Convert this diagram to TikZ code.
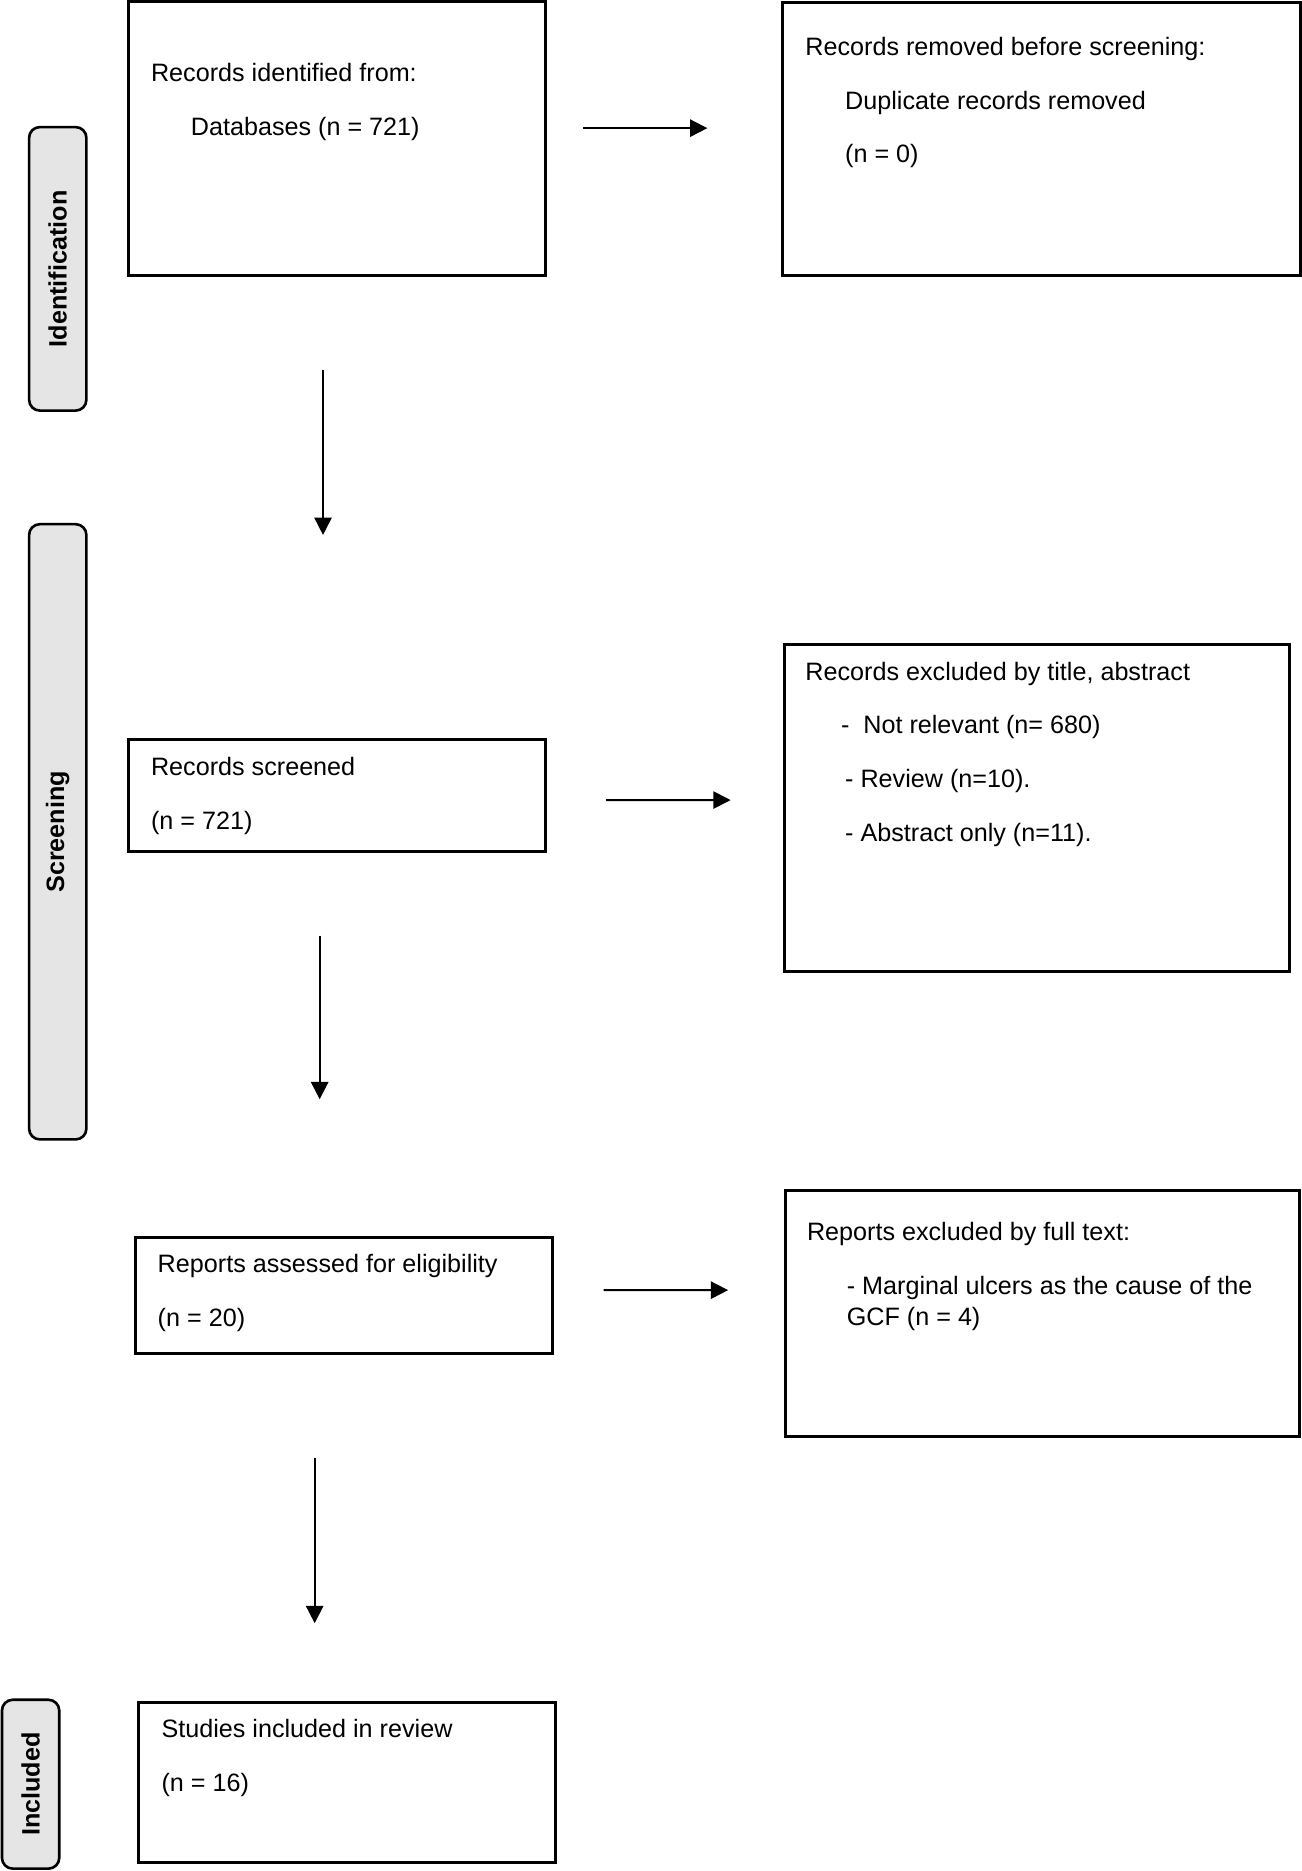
\documentclass[tikz,border=0pt]{standalone}
\usepackage{fontspec}
\setmainfont{Liberation Sans}
\usetikzlibrary{positioning,arrows.meta}
\tikzstyle{block} = [rectangle, draw, line width=1.4pt, inner sep=0pt, outer sep=0pt,
    minimum width=6.986cm]
\tikzstyle{stage} = [rectangle, draw, line width=1.25pt, fill=gray!20, rounded corners=0.18cm,
    rotate=90, minimum height=0.96cm, font=\fontsize{12}{14.4}\selectfont\bfseries]
\tikzstyle{txt} = [inner sep=0pt, outer sep=0pt, align=left, font=\fontsize{12}{14.8}\selectfont]
\tikzstyle{line} = [draw, line width=0.9pt, -{Triangle[length=0.29cm,width=0.29cm]}]

\begin{document}
\begin{tikzpicture}[node distance=1cm, auto]
	\useasboundingbox (0,0) rectangle (21.82,-31.36);

		\node [block, minimum height=4.586cm] (ident) at (5.649,-2.325) {};
		\node [block, minimum height=1.88cm, below=7.778cm of ident] (screened) {};
		\node [block, minimum height=1.95cm, below=6.466cm of screened, xshift=0.112cm] (assessed) {};
		\node [block, minimum width=6.996cm, minimum height=2.688cm, below=5.836cm of assessed, xshift=0.057cm] (included) {};

		\node [block, minimum width=8.67cm, minimum height=4.578cm, right=3.98cm of ident] (removed) {};
		\node [block, minimum width=8.462cm, minimum height=5.47cm, right=4.008cm of screened, yshift=-0.205cm] (excltitle) {};
		\node [block, minimum width=8.616cm, minimum height=4.124cm, right=3.91cm of assessed, yshift=-0.299cm] (exclfull) {};

		\node [stage, minimum width=4.752cm] (idstage) at (0.968,-4.506) {Identification};
		\node [stage, minimum width=10.312cm] (scrstage) at (0.968,-13.942) {Screening};
		\node [stage, minimum width=2.83cm] (incstage) at (0.513,-29.905) {Included};

		\node [txt, below right=1.026cm and 0.376cm of ident.north west] (identtxt)
			{Records identified from:\\[0.38cm]\hspace*{0.668cm}Databases (n = 721)};
		\node [txt, below right=0.59cm and 0.378cm of removed.north west] (removedtxt)
			{Records removed before screening:\\[0.38cm]\hspace*{0.666cm}Duplicate records removed\\[0.38cm]\hspace*{0.666cm}(n = 0)};
		\node [txt, below right=0.302cm and 0.376cm of screened.north west] (screenedtxt)
			{Records screened\\[0.38cm](n = 721)};
		\node [txt, below right=0.29cm and 0.35cm of excltitle.north west] (excltitletxt)
			{Records excluded by title, abstract\\[0.38cm]\hspace*{0.596cm}-\ \ Not relevant (n= 680)\\[0.38cm]\hspace*{0.666cm}- Review (n=10).\\[0.38cm]\hspace*{0.666cm}- Abstract only (n=11).};
		\node [txt, below right=0.282cm and 0.376cm of assessed.north west] (assessedtxt)
			{Reports assessed for eligibility\\[0.38cm](n = 20)};
		\node [txt, below right=0.538cm and 0.362cm of exclfull.north west] (exclfulltxt)
			{Reports excluded by full text:\\[0.38cm]\hspace*{0.668cm}- Marginal ulcers as the cause of the\\\hspace*{0.668cm}GCF (n = 4)};
		\node [txt, below right=0.29cm and 0.388cm of included.north west] (includedtxt)
			{Studies included in review\\[0.38cm](n = 16)};

		\path [line, shorten <=0.628cm, shorten >=1.266cm] ([yshift=0.177cm]ident.east) -- ([yshift=0.177cm]removed.west);
		\path [line, shorten <=1.584cm, shorten >=3.43cm] ([xshift=-0.235cm]ident.south) -- ([xshift=-0.235cm]screened.north);

		\path [line, shorten <=1.016cm, shorten >=0.904cm] ([yshift=-0.074cm]screened.east) -- ([yshift=0.131cm]excltitle.west);
		\path [line, shorten <=1.404cm, shorten >=2.318cm] ([xshift=-0.291cm]screened.south) -- ([xshift=-0.403cm]assessed.north);

		\path [line, shorten <=0.862cm, shorten >=0.96cm] ([yshift=0.093cm]assessed.east) -- ([yshift=0.392cm]exclfull.west);
		\path [line, shorten <=1.748cm, shorten >=1.322cm] ([xshift=-0.487cm]assessed.south) -- ([xshift=-0.544cm]included.north);
	\end{tikzpicture}
\end{document}
